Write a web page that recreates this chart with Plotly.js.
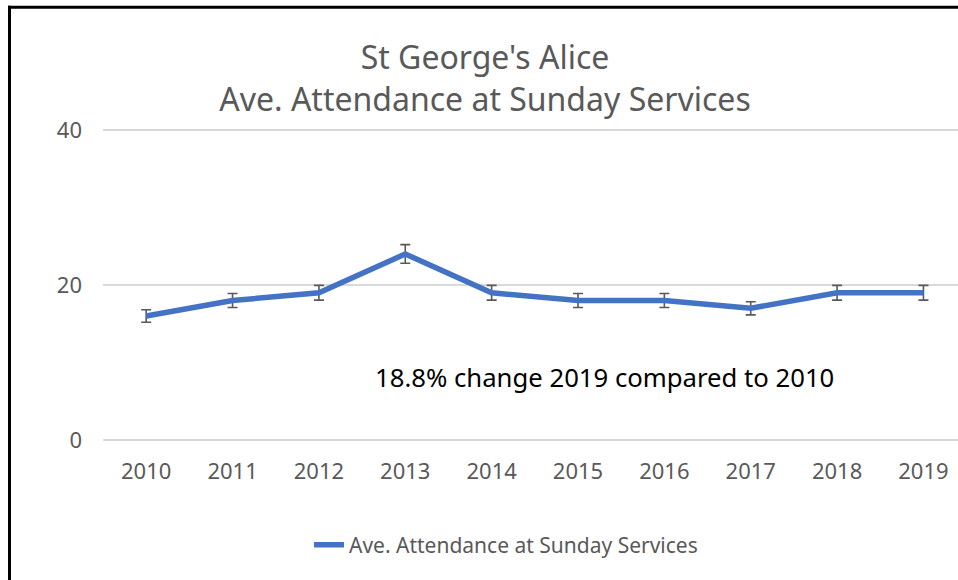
<!DOCTYPE html>
<html>
<head>
<meta charset="utf-8">
<script src="https://cdn.plot.ly/plotly-3.0.1.min.js"></script>
<style>html,body{margin:0;padding:0;background:#fff;}#chart{width:958px;height:580px;}</style>
</head>
<body>
<div id="chart"></div>
<script>
const years = ['2010','2011','2012','2013','2014','2015','2016','2017','2018','2019'];
const attendance = [16, 18, 19, 24, 19, 18, 18, 17, 19, 19];
const errorPercent = 5;
const seriesName = 'Ave. Attendance at Sunday Services';
const titleLines = ["St George's Alice", 'Ave. Attendance at Sunday Services'];
const noteText = '18.8% change 2019 compared to 2010';
const yTicks = [0, 20, 40];

const FONT = 'Noto Sans, sans-serif';
const GREY = '#595959';

// plot frame: y=40 at 130px, y=0 at 440px; padded by half a unit each side so edge gridlines draw
const PT = 126.1, PB = 580 - 443.9;
const pxX = v => (v - 103) / 855;
const pxY = v => (443.9 - v) / (443.9 - 126.1);

const trace = {
  x: years,
  y: attendance,
  type: 'scatter',
  mode: 'lines',
  name: seriesName,
  line: {color: '#4472C4', width: 5.5},
  error_y: {type: 'percent', value: errorPercent, visible: true, color: GREY, thickness: 1.6, width: 5},
  showlegend: true
};

const layout = {
  width: 958, height: 580,
  margin: {l: 103, r: 0, t: PT, b: PB},
  paper_bgcolor: '#ffffff', plot_bgcolor: '#ffffff',
  font: {family: FONT, color: GREY},
  title: {
    text: titleLines.join('<br>'),
    font: {family: FONT, size: 32, color: GREY},
    xref: 'container', x: 485/958, xanchor: 'center',
    yref: 'container', y: 1 - 69/580, yanchor: 'top'
  },
  xaxis: {
    type: 'category',
    range: [-0.5, 9.4],
    showgrid: false, zeroline: false, showline: false,
    ticks: '', tickfont: {size: 22, color: GREY, family: FONT},
    ticklabelstandoff: 12,
    fixedrange: true
  },
  yaxis: {
    range: [-0.5, 40.5],
    tickvals: yTicks,
    showgrid: true, gridcolor: '#d9d9d9', gridwidth: 1.5,
    zeroline: false, showline: false, ticks: '',
    tickfont: {size: 22, color: GREY, family: FONT},
    ticklabelstandoff: 20,
    fixedrange: true
  },
  showlegend: true,
  legend: {
    orientation: 'h', x: 506/958, xref: 'container', xanchor: 'center',
    y: 1 - 545/580, yref: 'container', yanchor: 'middle',
    font: {size: 21, color: GREY, family: FONT}
  },
  annotations: [{
    text: noteText, xref: 'paper', yref: 'paper',
    x: pxX(604), y: pxY(377), xanchor: 'center', yanchor: 'middle',
    showarrow: false, font: {size: 25.7, color: '#000000', family: FONT}
  }],
  shapes: [
    {type: 'line', xref: 'paper', yref: 'paper', x0: pxX(9.5), x1: pxX(9.5), y0: pxY(6), y1: pxY(585), line: {color: '#000', width: 3}},
    {type: 'line', xref: 'paper', yref: 'paper', x0: pxX(8), x1: pxX(965), y0: pxY(7.5), y1: pxY(7.5), line: {color: '#000', width: 3}}
  ]
};

Plotly.newPlot('chart', [trace], layout, {displayModeBar: false, staticPlot: true});
</script>
</body>
</html>
